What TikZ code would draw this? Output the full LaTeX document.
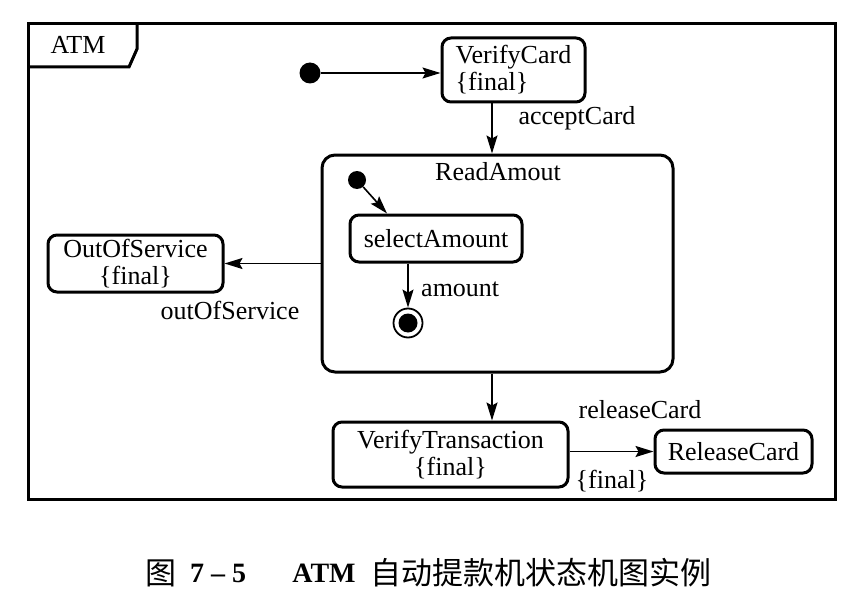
\documentclass[tikz,border=0pt]{standalone}
\usepackage{fontspec}
\setmainfont{Liberation Serif}
\newfontfamily\cjk{Noto Sans CJK SC}
\usetikzlibrary{arrows.meta,calc}
\tikzset{
  state/.style={draw, line width=3pt, rounded corners=9pt, inner sep=0pt, font=\fontsize{26}{27}\selectfont},
  initdot/.style={circle, fill, inner sep=0pt, minimum size=#1},
  conn/.style={line width=1.6pt, -{Stealth[length=18pt,width=11pt,inset=3pt]}},
  lbl/.style={font=\fontsize{26}{27}\selectfont, inner sep=0pt},
  capcn/.style={font=\cjk\fontsize{31}{33}\selectfont, inner sep=0pt},
  caplat/.style={font=\bfseries\fontsize{28}{30}\selectfont, inner sep=0pt}
}
\begin{document}
\begin{tikzpicture}[x=1pt,y=-1pt]
\useasboundingbox (0,0) rectangle (856,599);
% frame
\draw[line width=3pt] (28,24) rectangle (835,499);
\draw[line width=3pt] (28,67) -- (129,67) -- (137,49) -- (137,24);
\node[lbl] (atm) at (78,45) {ATM};
% initial
\node[initdot=21pt] (i1) at (310,73) {};
\node[state, minimum width=143pt, minimum height=64pt, align=left] (vc) at (513.5,70) {VerifyCard\\\{final\}};
\draw[conn] (i1) -- (vc.west |- i1);
% ReadAmout
\node[state, rounded corners=13pt, minimum width=351pt, minimum height=217pt] (ra) at (497.5,263.5) {};
\node[lbl] (ratitle) at (498,172) {ReadAmout};
\coordinate (c1) at (492,0);
\draw[conn] (vc.south -| c1) -- (ra.north -| c1);
\node[lbl] (accept) at (577,118) {acceptCard};
% inner
\node[initdot=18pt] (i2) at (357,180) {};
\node[state, minimum width=172pt, minimum height=47pt] (sel) at (436,238.5) {selectAmount};
\draw[conn] (i2) -- ($(sel.north west)!0.22!(sel.north east)$);
\node[circle, draw, line width=1.8pt, minimum size=29pt, inner sep=0pt] (fin) at (408,323) {};
\node[circle, fill, minimum size=19pt, inner sep=0pt] (finin) at (fin) {};
\draw[conn] (sel.south -| fin) -- (fin.north);
\node[lbl, anchor=west] (amt) at (421,289) {amount};
% OutOfService
\node[state, minimum width=175pt, minimum height=57pt, align=center] (oos) at (135.5,263.5) {OutOfService\\\{final\}};
\draw[conn] (ra.west |- oos.east) -- (oos.east);
\node[lbl] (oosl) at (230,310) {outOfService};
% VerifyTransaction
\node[state, minimum width=235pt, minimum height=65pt, align=center] (vt) at (450.5,454.5) {VerifyTransaction\\\{final\}};
\draw[conn] (ra.south -| c1) -- (vt.north -| c1);
\node[state, minimum width=157pt, minimum height=43pt] (rc) at (733.5,451.5) {ReleaseCard};
\draw[conn] (vt.east |- rc.west) -- (rc.west);
\node[lbl] (rcl) at (640,410) {releaseCard};
\node[lbl] (fl) at (612,481) {\{final\}};
% caption
\node[capcn] (cap1) at (161,573) {图};
\node[caplat] (cap2) at (218,573) {7 -- 5};
\node[caplat] (cap3) at (324,573) {ATM};
\node[capcn] (cap4) at (541,573) {自动提款机状态机图实例};
\end{tikzpicture}
\end{document}
